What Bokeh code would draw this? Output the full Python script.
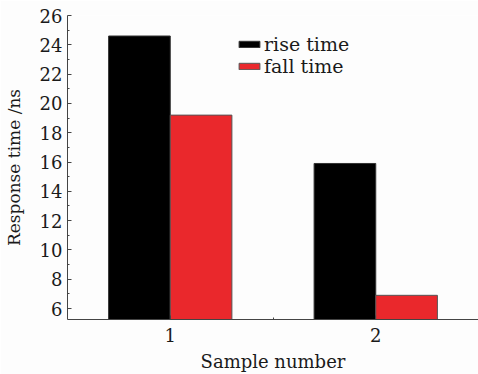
import numpy as np
from bokeh.plotting import figure
from bokeh.models import Range1d, FixedTicker, Legend, LegendItem
from bokeh.embed import file_html
from bokeh.resources import INLINE

samples = [1, 2]
sample_labels = {1: "1", 2: "2"}
rise_time = [24.6, 15.9]
fall_time = [19.2, 6.9]
series_names = ["rise time", "fall time"]
y_ticks = [6, 8, 10, 12, 14, 16, 18, 20, 22, 24, 26]
y_minor = [7, 9, 11, 13, 15, 17, 19, 21, 23, 25]

FONT = "'DejaVu Serif', 'Liberation Serif', serif"
TXT = "#1a1a1a"

p = figure(width=478, height=374, output_backend="svg", toolbar_location=None,
           x_range=Range1d(0.5, 2.5), y_range=Range1d(5.25, 26),
           min_border_left=67, min_border_right=0, min_border_top=15, min_border_bottom=54)
p.background_fill_color = "#fdfdfd"
p.border_fill_color = "#fdfdfd"
p.outline_line_color = None
p.xgrid.visible = False
p.ygrid.visible = False

xs = np.array(samples, dtype=float)
r1 = p.vbar(x=xs - 0.15, top=rise_time, bottom=5.25, width=0.3,
            fill_color="#000000", line_color="#333333", line_width=1)
r2 = p.vbar(x=xs + 0.15, top=fall_time, bottom=5.25, width=0.3,
            fill_color="#ea282c", line_color="#555555", line_width=1)

for ax in (p.xaxis[0], p.yaxis[0]):
    ax.axis_line_color = "#444444"
    ax.major_tick_line_color = "#444444"
    ax.minor_tick_line_color = "#444444"
    ax.major_tick_in = 4
    ax.major_tick_out = 0
    ax.minor_tick_in = 2
    ax.minor_tick_out = 0
    ax.major_label_text_font = FONT
    ax.major_label_text_color = TXT
    ax.major_label_text_font_size = "18px"
    ax.axis_label_text_font = FONT
    ax.axis_label_text_color = TXT
    ax.axis_label_text_font_style = "normal"

p.yaxis.ticker = FixedTicker(ticks=y_ticks, minor_ticks=y_minor)
p.yaxis.axis_label = "Response time /ns"
p.yaxis.axis_label_text_font_size = "17px"
p.yaxis.major_label_standoff = 5
p.yaxis.axis_label_standoff = 13

p.xaxis.ticker = FixedTicker(ticks=samples, minor_ticks=[1.5])
p.xaxis.major_label_overrides = sample_labels
p.xaxis.axis_label = "Sample number"
p.xaxis.axis_label_text_font_size = "18px"
p.xaxis.major_label_standoff = 8
p.xaxis.axis_label_standoff = 6

legend = Legend(items=[LegendItem(label=series_names[0], renderers=[r1]),
                       LegendItem(label=series_names[1], renderers=[r2])],
                location=(169, 242), orientation="vertical")
legend.background_fill_alpha = 0
legend.border_line_color = None
legend.padding = 0
legend.margin = 0
legend.spacing = 0
legend.glyph_width = 26
legend.glyph_height = 8
legend.label_height = 19
legend.label_standoff = 2
legend.label_text_font = FONT
legend.label_text_font_size = "19px"
legend.label_text_color = TXT
p.add_layout(legend)

open("out.html", "w").write(file_html(p, INLINE))
